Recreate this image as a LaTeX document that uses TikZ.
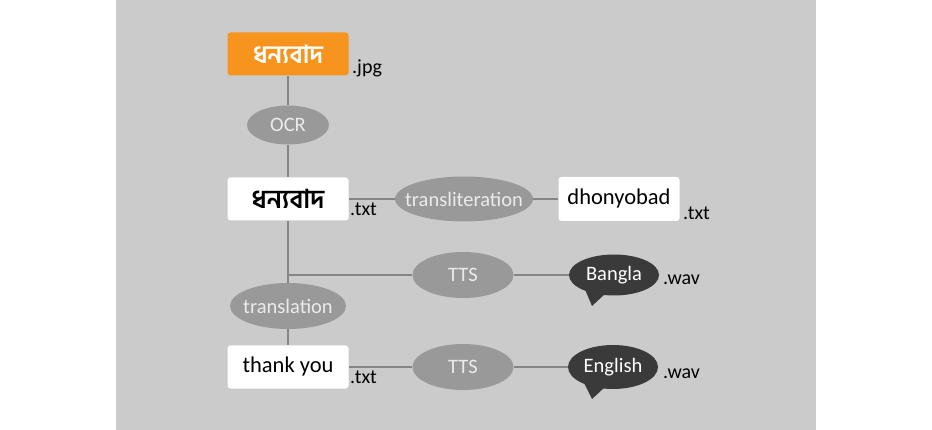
\documentclass[tikz,border=0pt]{standalone}
\usepackage{fontspec}
\setmainfont{Carlito}
\newfontfamily\bnfont[Script=Bengali]{Hind Siliguri}
\usetikzlibrary{shapes.geometric,backgrounds,calc}
\definecolor{bggray}{HTML}{CBCBCB}
\definecolor{stepgray}{HTML}{999999}
\definecolor{linegray}{HTML}{858585}
\definecolor{bubblegray}{HTML}{3A3A3A}
\definecolor{orangebox}{HTML}{F7941E}
\newcommand{\steplabel}[1]{\makebox[0pt]{#1}}
\tikzset{
  filebox/.style={rectangle, rounded corners=3pt, fill=white, inner sep=0pt,
    minimum width=121, minimum height=43, font=\fontsize{22.5}{24}\selectfont},
  stepoval/.style={ellipse, fill=stepgray, inner sep=0pt, text=white!92!black,
    font=\fontsize{20.5}{22}\selectfont},
  bubble/.style={ellipse, fill=bubblegray, inner sep=0pt, text=white,
    minimum width=90, minimum height=41, font=\fontsize{20.5}{22}\selectfont},
  ext/.style={anchor=base west, inner sep=0pt, font=\fontsize{20}{22}\selectfont},
  link/.style={draw=linegray, line width=1.6pt}
}
\begin{document}
\begin{tikzpicture}[x=1pt, y=-1pt]
\useasboundingbox (0,0) rectangle (932,430);
% boxes
\node (jpg) [filebox, fill=orangebox, text=white, font=\bnfont\bfseries\fontsize{25}{27}\selectfont] at (288,54) {ধন্যবাদ};
\node (bntxt) [filebox, font=\bnfont\bfseries\fontsize{26}{28}\selectfont] at (288,199) {ধন্যবাদ};
\node (dhon) [filebox, minimum height=44] at (619,199) {dhonyobad};
\node (thanks) [filebox] at (288,367) {thank you};
% steps
\node (ocr) [stepoval, minimum width=82, minimum height=39] at (288,125) {\steplabel{OCR}};
\node (translit) [stepoval, minimum width=138, minimum height=45] at (464,199) {\steplabel{transliteration}};
\node (ttsbn) [stepoval, minimum width=101, minimum height=46] at (463,275) {\steplabel{TTS}};
\node (trans) [stepoval, minimum width=116, minimum height=46] at (288,306) {\steplabel{translation}};
\node (ttsen) [stepoval, minimum width=101, minimum height=46] at (463,367) {\steplabel{TTS}};
% speech bubbles
\fill[bubblegray] ($(614,275)+(-30,12)$) -- (592,306) -- ($(614,275)+(-8,18)$) -- cycle;
\node (bangla) [bubble] at (614,275) {Bangla};
\fill[bubblegray] ($(613,367)+(-30,14)$) -- (592,399) -- ($(613,367)+(-8,20)$) -- cycle;
\node (english) [bubble, minimum height=44] at (613,367) {English};
% file endings
\node (jpgext) [ext] at (352,74) {.jpg};
\node (bnext) [ext] at (350,216) {.txt};
\node (dhonext) [ext] at (683,220) {.txt};
\node (banglaext) [ext] at (663,285) {.wav};
\node (thanksext) [ext] at (350,383) {.txt};
\node (englishext) [ext] at (663,378) {.wav};
\coordinate (branch) at (288,275);
\begin{scope}[on background layer]
\fill[bggray] (116,0) rectangle (816,430);
\draw[link] (jpg) -- (ocr) -- (bntxt) -- (trans) -- (thanks);
\draw[link] (bntxt) -- (translit) -- (dhon);
\draw[link] (branch) -- (ttsbn) -- (bangla);
\draw[link] (thanks) -- (ttsen) -- (english);
\end{scope}
\end{tikzpicture}
\end{document}
